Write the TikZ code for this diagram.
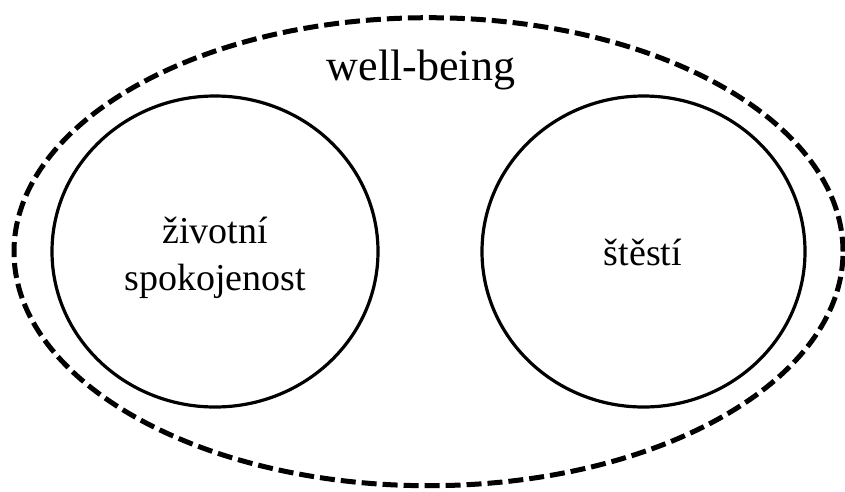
\documentclass[tikz,border=0pt]{standalone}
\usepackage{fontspec}
\setmainfont{Liberation Serif}
\usetikzlibrary{shapes.geometric}
\begin{document}
\begin{tikzpicture}[x=1pt,y=-1pt,
  outerset/.style={ellipse, draw, line width=5pt, dash pattern=on 15pt off 6pt, inner sep=0pt},
  innerset/.style={ellipse, draw, line width=3.2pt, inner sep=0pt},
  biglabel/.style={font=\fontsize{44}{50}\selectfont, anchor=base, inner sep=0pt},
  setlabel/.style={font=\fontsize{38}{47}\selectfont, anchor=base, align=center, inner sep=0pt}]
\useasboundingbox (0,0) rectangle (845,491);
\node[outerset, minimum width=829pt, minimum height=468pt] (wb) at (428.5,251.7) {};
\node[innerset, minimum width=326pt, minimum height=311pt] (zs) at (215,251.5) {};
\node[innerset, minimum width=323pt, minimum height=311pt] (st) at (643.5,251.5) {};
\node[biglabel] (wbl) at (421,80) {well-being};
\node[setlabel] (zsl) at (215,290) {životní\\spokojenost};
\node[setlabel] (stl) at (643,265) {štěstí};
\end{tikzpicture}
\end{document}
